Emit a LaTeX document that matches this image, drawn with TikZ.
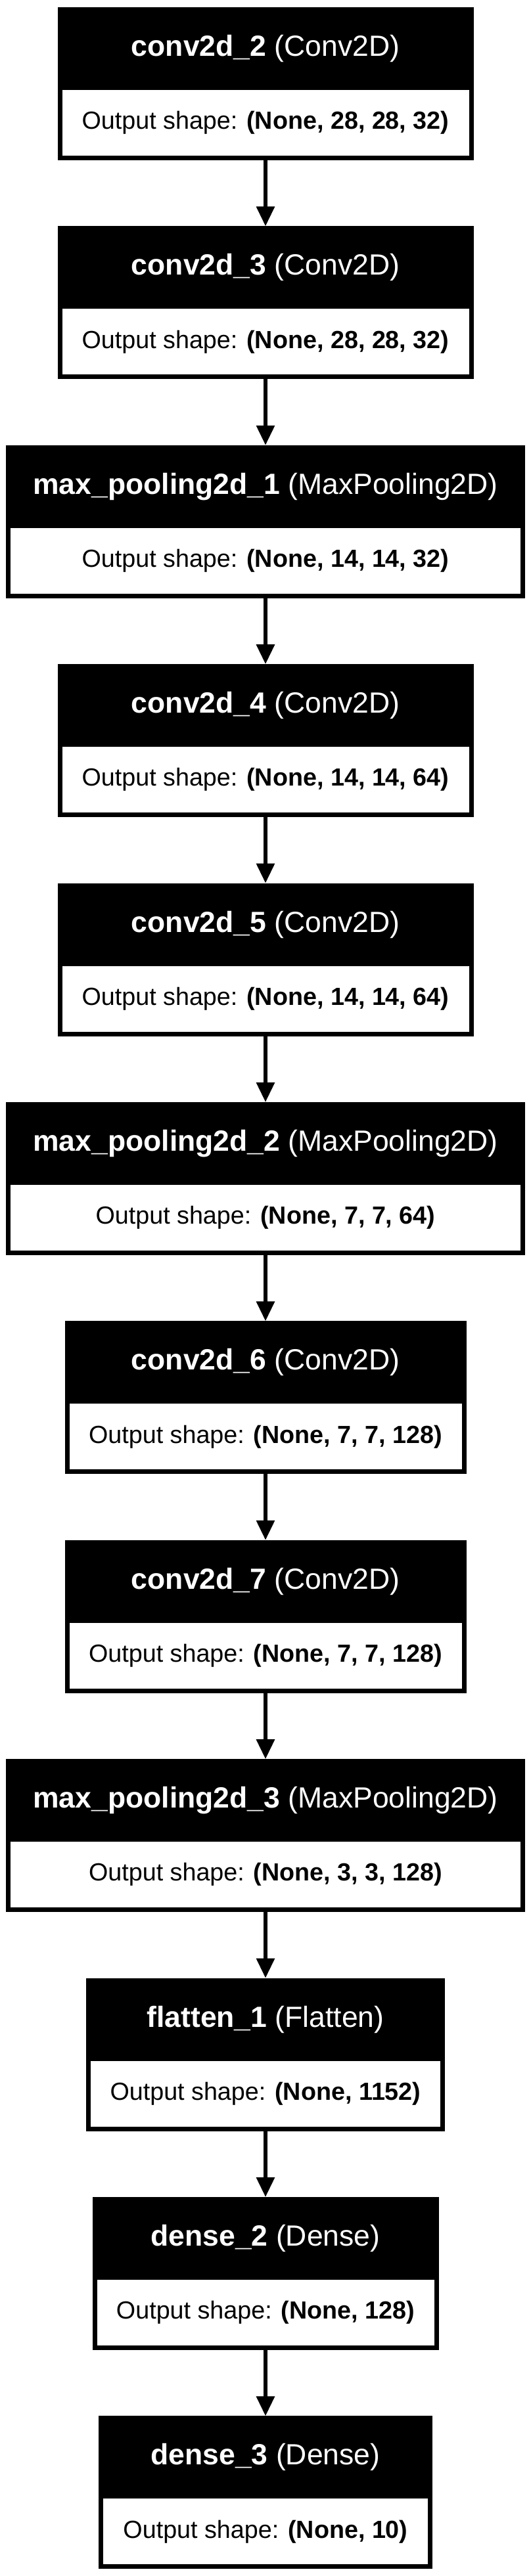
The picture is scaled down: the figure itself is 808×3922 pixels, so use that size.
\documentclass[tikz,border=0pt]{standalone}
\usepackage{fontspec}
\setmainfont{Liberation Sans}
\usetikzlibrary{positioning,arrows.meta}

\tikzset{
  layerhead/.style={fill=black, text=white, inner sep=0pt, outer sep=0pt,
    minimum height=126pt, anchor=north, font=\fontsize{44.5}{50}\selectfont},
  layershape/.style={fill=white, draw=black, line width=7pt, inner sep=0pt,
    outer sep=3.5pt, minimum height=107pt, font=\fontsize{37.7}{44}\selectfont},
  flow/.style={-{Triangle[length=30pt,width=27pt]}, line width=6pt},
}

\begin{document}
\begin{tikzpicture}[x=1pt,y=1pt,node distance=100.4pt]
  \useasboundingbox (0,0) rectangle (808,-3922);

  % Layers
  \node[layerhead, minimum width=633pt] (c2) at (404,-11) {\textbf{conv2d\_2} (Conv2D)};
  \node[layershape, minimum width=626pt, below=-7pt of c2] (c2o) {Output shape: \textbf{(None, 28, 28, 32)}};

  \node[layerhead, minimum width=633pt, below=of c2o] (c3) {\textbf{conv2d\_3} (Conv2D)};
  \node[layershape, minimum width=626pt, below=-7pt of c3] (c3o) {Output shape: \textbf{(None, 28, 28, 32)}};

  \node[layerhead, minimum width=790pt, below=of c3o] (p1) {\textbf{max\_pooling2d\_1} (MaxPooling2D)};
  \node[layershape, minimum width=783pt, below=-7pt of p1] (p1o) {Output shape: \textbf{(None, 14, 14, 32)}};

  \node[layerhead, minimum width=633pt, below=of p1o] (c4) {\textbf{conv2d\_4} (Conv2D)};
  \node[layershape, minimum width=626pt, below=-7pt of c4] (c4o) {Output shape: \textbf{(None, 14, 14, 64)}};

  \node[layerhead, minimum width=633pt, below=of c4o] (c5) {\textbf{conv2d\_5} (Conv2D)};
  \node[layershape, minimum width=626pt, below=-7pt of c5] (c5o) {Output shape: \textbf{(None, 14, 14, 64)}};

  \node[layerhead, minimum width=790pt, below=of c5o] (p2) {\textbf{max\_pooling2d\_2} (MaxPooling2D)};
  \node[layershape, minimum width=783pt, below=-7pt of p2] (p2o) {Output shape: \textbf{(None, 7, 7, 64)}};

  \node[layerhead, minimum width=611pt, below=of p2o] (c6) {\textbf{conv2d\_6} (Conv2D)};
  \node[layershape, minimum width=604pt, below=-7pt of c6] (c6o) {Output shape: \textbf{(None, 7, 7, 128)}};

  \node[layerhead, minimum width=611pt, below=of c6o] (c7) {\textbf{conv2d\_7} (Conv2D)};
  \node[layershape, minimum width=604pt, below=-7pt of c7] (c7o) {Output shape: \textbf{(None, 7, 7, 128)}};

  \node[layerhead, minimum width=790pt, below=of c7o] (p3) {\textbf{max\_pooling2d\_3} (MaxPooling2D)};
  \node[layershape, minimum width=783pt, below=-7pt of p3] (p3o) {Output shape: \textbf{(None, 3, 3, 128)}};

  \node[layerhead, minimum width=546pt, below=of p3o] (fl) {\textbf{flatten\_1} (Flatten)};
  \node[layershape, minimum width=539pt, below=-7pt of fl] (flo) {Output shape: \textbf{(None, 1152)}};

  \node[layerhead, minimum width=527pt, below=of flo] (d2) {\textbf{dense\_2} (Dense)};
  \node[layershape, minimum width=520pt, below=-7pt of d2] (d2o) {Output shape: \textbf{(None, 128)}};

  \node[layerhead, minimum width=508pt, below=of d2o] (d3) {\textbf{dense\_3} (Dense)};
  \node[layershape, minimum width=501pt, below=-7pt of d3] (d3o) {Output shape: \textbf{(None, 10)}};

  % Connections
  \draw[flow] (c2o) -- (c3);
  \draw[flow] (c3o) -- (p1);
  \draw[flow] (p1o) -- (c4);
  \draw[flow] (c4o) -- (c5);
  \draw[flow] (c5o) -- (p2);
  \draw[flow] (p2o) -- (c6);
  \draw[flow] (c6o) -- (c7);
  \draw[flow] (c7o) -- (p3);
  \draw[flow] (p3o) -- (fl);
  \draw[flow] (flo) -- (d2);
  \draw[flow] (d2o) -- (d3);
\end{tikzpicture}
\end{document}
